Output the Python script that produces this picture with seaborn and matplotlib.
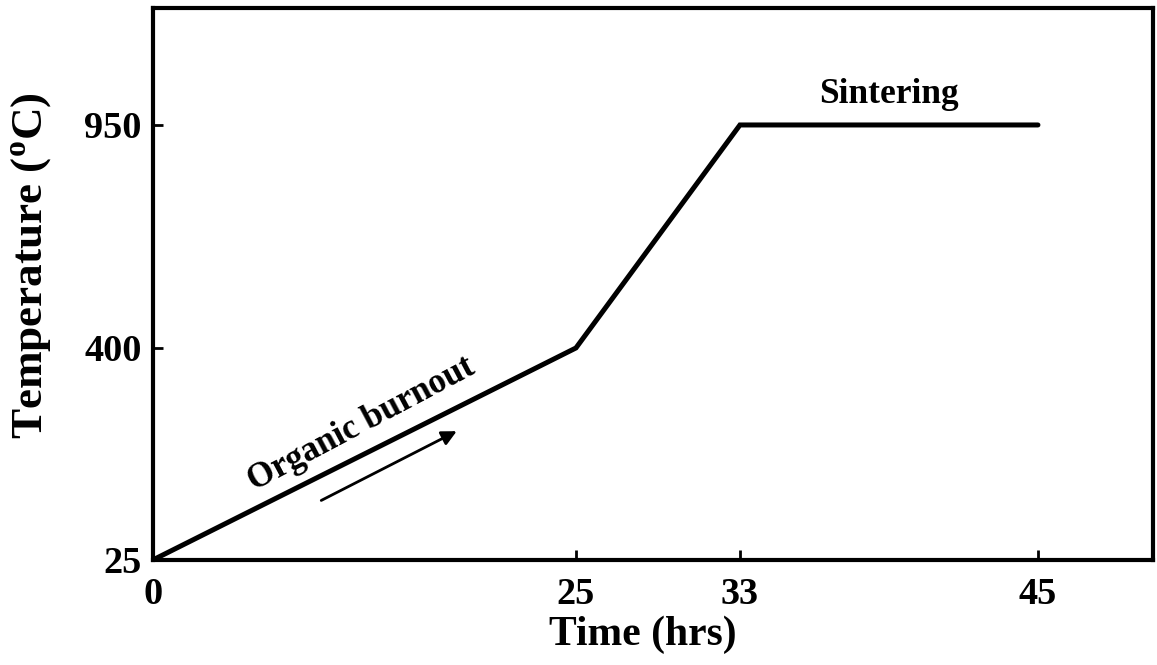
import matplotlib
matplotlib.use("Agg")
import matplotlib.pyplot as plt
import seaborn as sns
import numpy as np
import pandas as pd

# firing schedule (schematic, axes are not to scale)
time_hrs = [0, 25, 33, 45]
temp_c = [25, 400, 950, 950]
x_ticks = [0, 25, 33, 45]
y_ticks = [25, 400, 950]

# where the tick values sit along each axis (pixels from the origin)
x_pos = [0, 423, 587, 885]
y_pos = [0, 212, 435]


def piecewise(vals, pos):
    # linear between break points, extended with the end slopes
    vals = np.asarray(vals, float)
    pos = np.asarray(pos, float)
    s0 = (pos[1] - pos[0]) / (vals[1] - vals[0])
    s1 = (pos[-1] - pos[-2]) / (vals[-1] - vals[-2])
    big = 1e6
    v = np.concatenate([[vals[0] - big], vals, [vals[-1] + big]])
    p = np.concatenate([[pos[0] - big * s0], pos, [pos[-1] + big * s1]])

    def fwd(a):
        return np.interp(a, v, p)

    def inv(a):
        return np.interp(a, p, v)
    return fwd, inv


sns.set_style("ticks")
plt.rcParams['font.family'] = ['Liberation Serif', 'DejaVu Serif']
plt.rcParams['font.weight'] = 'bold'
plt.rcParams['mathtext.fontset'] = 'custom'
plt.rcParams['mathtext.rm'] = 'Liberation Serif:bold'
plt.rcParams['mathtext.bf'] = 'Liberation Serif:bold'
for k in ['text.color', 'axes.labelcolor', 'xtick.color', 'ytick.color',
          'axes.edgecolor']:
    plt.rcParams[k] = 'black'

df = pd.DataFrame({'time': time_hrs, 'temp': temp_c})

fig, ax = plt.subplots(figsize=(11.57, 6.65), dpi=100)
fig.subplots_adjust(left=0.1322, right=0.9965, bottom=0.158, top=0.988)

fx, ix = piecewise(x_ticks, x_pos)
fy, iy = piecewise(y_ticks, y_pos)
ax.set_xscale('function', functions=(fx, ix))
ax.set_yscale('function', functions=(fy, iy))

sns.lineplot(data=df, x='time', y='temp', color='black', lw=3.6, ax=ax,
             solid_joinstyle='miter')

ax.set_xlim(0, ix(1000))
ax.set_ylim(25, iy(552))
ax.set_xticks(x_ticks)
ax.set_xticklabels([str(t) for t in x_ticks])
ax.set_yticks(y_ticks)
ax.set_yticklabels([str(t) for t in y_ticks])
ax.minorticks_off()

ax.tick_params(direction='in', length=7, width=2, labelsize=27.5)
ax.tick_params(axis='x', pad=12)
ax.tick_params(axis='y', pad=8)
for s in ax.spines.values():
    s.set_linewidth(3)
    s.set_color('black')

ax.set_xlabel('Time (hrs)', fontsize=30, fontweight='bold')
ax.set_ylabel(r'Temperature ($^{\mathbf{o}}$C)', fontsize=32.5, fontweight='bold')
ax.xaxis.set_label_coords(0.49, -0.10)
ax.yaxis.set_label_coords(-0.098, 0.533)

ax.text(39.0, 1024, 'Sintering', fontsize=25.5, fontweight='bold',
        ha='center', va='center')
ax.text(12.35, 265, 'Organic burnout', fontsize=25, fontweight='bold',
        ha='center', va='center', rotation=28, rotation_mode='anchor')
ax.annotate('', xy=(18.1, 255), xytext=(9.8, 128),
            arrowprops=dict(arrowstyle='-|>', lw=2, color='black',
                            mutation_scale=22))

plt.savefig('out.png', dpi=100)
